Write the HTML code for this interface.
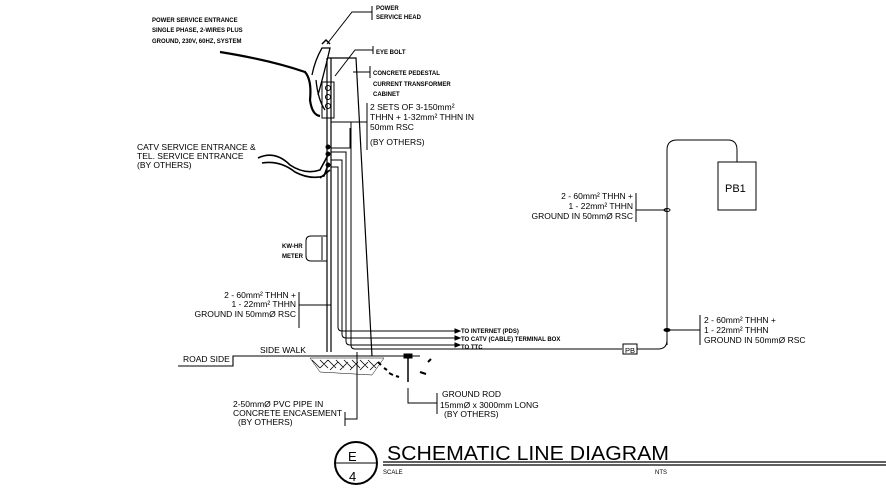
<!DOCTYPE html>
<html><head><meta charset="utf-8"><style>
html,body{margin:0;padding:0;background:#fff;width:886px;height:496px;overflow:hidden}
svg{display:block}
text{font-family:"Liberation Sans",sans-serif;fill:#000}
.s{font-size:8.5px}
.b{font-size:6px;font-weight:bold}
</style></head><body>
<svg width="886" height="496" viewBox="0 0 886 496" xmlns="http://www.w3.org/2000/svg">
<g stroke="#000" fill="none" stroke-width="1">
<path d="M327 58 L327 352 M331 58 L331 352 M327 58 L356 58 L372 356" stroke-width="1.2"/>
<rect x="322" y="82" width="12" height="36"/>
<circle cx="328" cy="88" r="2.5"/><circle cx="328" cy="97" r="2.5"/><circle cx="328" cy="106" r="2.5"/>
<path d="M220 52 Q270 60 305 72 Q312 80 310 100 Q312 115 320 116" stroke-width="2.2"/>
<path d="M312 75 Q315 60 322 48 L330 48 Q325 70 318 95 M316 80 Q318 100 325 110" stroke-width="1.3"/>
<path d="M322 44 L326 40 L330 44" stroke-width="1.5"/>
<path d="M331 122 L351 122 L351 345 Q351 349 355 349 L622 349"/>
<path d="M331 148 L350 148 L350 128"/>
<path d="M331 152 L346 152 L346 341 Q346 345 350 345 L455 345"/>
<path d="M331 160 L342 160 L342 334 Q342 338 346 338 L455 338"/>
<path d="M331 167 L338 167 L338 327 Q338 331 342 331 L455 331"/>
<path d="M258 158 Q275 150 290 165 Q305 175 320 170 L328 155 M262 163 Q280 160 295 172 Q310 180 324 176 L328 165 M320 178 L330 170" stroke-width="1.6"/>
<circle cx="328" cy="147" r="2" fill="#000"/><circle cx="328" cy="154" r="2" fill="#000"/><circle cx="328" cy="165" r="2" fill="#000"/>
<path d="M327 236 L311 236 Q306 236 306 241 L306 256 Q306 261 311 261 L327 261"/>
<path d="M322 237 L322 260"/>
<path d="M372 6 L372 20 M372 12 L352 12 L327 44"/>
<path d="M373 46 L373 54 M373 50 L355 50 L335 76"/>
<path d="M370 66 L370 78 M370 72 L353 72"/>
<path d="M367 103 L367 150 M367 122 L331 122"/>
<path d="M299 292 L299 328 M299 305 L331 305"/>
<path d="M345 412 L345 426 M345 419 L357 419 L357 352"/>
<path d="M437 393 L437 414 M437 403 L408 403 L408 388"/>
<path d="M636 193 L636 222 M636 210 L667 210"/>
<path d="M700 315 L700 345 M700 330 L667 330"/>
<path d="M455 329 L460 331 L455 333 Z M455 336 L460 338 L455 340 Z M455 343 L460 345 L455 347 Z" fill="#000"/>
<path d="M178 366 L233 366 L233 356 L420 356" stroke-width="1.1"/>
<path d="M310 358 L384 358 L372 375 L320 372 Z" stroke-width="0.5"/>
<path d="M312 360 l8 8 M320 360 l8 8 M328 360 l8 8 M336 360 l8 8 M344 360 l8 8 M352 360 l8 8 M360 360 l8 8 M368 360 l8 8 M320 368 l8 -8 M330 370 l8 -8 M340 370 l8 -8 M350 370 l8 -8 M360 370 l8 -8 M370 370 l8 -8" stroke-width="0.8"/>
<path d="M378 362 l3 3 M384 368 l3 2 M389 373 l4 2 M396 376 l3 1 M420 372 l6 2 M428 362 l3 -3" stroke-width="2"/>
<rect x="404" y="354" width="8" height="4" fill="#000"/>
<path d="M408 358 L408 382" stroke-width="1.5"/>
<path d="M667 345 L667 150 Q667 140 677 140 L728 140 Q737 140 737 150 L737 162"/>
<rect x="718" y="162" width="38" height="48"/>
<rect x="623" y="344" width="14" height="10"/>
<path d="M637 349 L658 349 Q667 349 667 340"/>
<ellipse cx="667" cy="210" rx="3" ry="1.5"/>
<ellipse cx="667" cy="330" rx="3" ry="1.5" fill="#000"/>
<circle cx="356" cy="463" r="21" stroke-width="2"/>
<path d="M335 463 L377 463"/>
<path d="M383 462 L886 462 M383 465 L886 465" stroke-width="1.2"/>
</g>
<text class="b" x="152" y="22">POWER SERVICE ENTRANCE</text>
<text class="b" x="152" y="32">SINGLE PHASE, 2-WIRES PLUS</text>
<text class="b" x="152" y="43">GROUND, 230V, 60HZ, SYSTEM</text>
<text class="b" x="376" y="10">POWER</text>
<text class="b" x="376" y="19">SERVICE HEAD</text>
<text class="b" x="376" y="54">EYE BOLT</text>
<text class="b" x="373" y="75">CONCRETE PEDESTAL</text>
<text class="b" x="373" y="86">CURRENT TRANSFORMER</text>
<text class="b" x="373" y="96">CABINET</text>
<text class="s" x="370" y="110">2 SETS OF 3-150mm²</text>
<text class="s" x="370" y="120">THHN + 1-32mm² THHN IN</text>
<text class="s" x="370" y="130">50mm RSC</text>
<text class="s" x="370" y="145">(BY OTHERS)</text>
<text class="s" x="137" y="150">CATV SERVICE ENTRANCE &amp;</text>
<text class="s" x="137" y="159">TEL. SERVICE ENTRANCE</text>
<text class="s" x="137" y="168">  (BY OTHERS)</text>
<text class="b" x="282" y="248">KW-HR</text>
<text class="b" x="282" y="258">METER</text>
<text class="s" x="296" y="298" text-anchor="end">2 - 60mm²  THHN +</text>
<text class="s" x="296" y="307" text-anchor="end">1 - 22mm²  THHN</text>
<text class="s" x="296" y="317" text-anchor="end">GROUND IN 50mmØ RSC</text>
<text class="b" x="461" y="333">TO INTERNET (PDS)</text>
<text class="b" x="461" y="341">TO CATV (CABLE) TERMINAL BOX</text>
<text class="b" x="461" y="349">TO TTC</text>
<text class="s" x="260" y="353">SIDE WALK</text>
<text class="s" x="183" y="362">ROAD SIDE</text>
<text class="s" x="233" y="407">2-50mmØ PVC PIPE IN</text>
<text class="s" x="233" y="416">CONCRETE ENCASEMENT</text>
<text class="s" x="238" y="425">(BY OTHERS)</text>
<text class="s" x="442" y="397">GROUND ROD</text>
<text class="s" x="440" y="408">15mmØ x 3000mm LONG</text>
<text class="s" x="444" y="417">(BY OTHERS)</text>
<text class="s" x="633" y="199" text-anchor="end">2 - 60mm²  THHN +</text>
<text class="s" x="633" y="209" text-anchor="end">1 - 22mm²  THHN</text>
<text class="s" x="633" y="219" text-anchor="end">GROUND IN 50mmØ RSC</text>
<text x="725" y="192" style="font-size:11px">PB1</text>
<text x="625" y="353" style="font-size:7.5px">PB</text>
<text class="s" x="704" y="323">2 - 60mm²  THHN +</text>
<text class="s" x="704" y="333">1 - 22mm²  THHN</text>
<text class="s" x="704" y="343">GROUND IN 50mmØ RSC</text>
<text x="348" y="461" style="font-size:13px">E</text>
<text x="349" y="481" style="font-size:13px">4</text>
<text x="387" y="460" style="font-size:20px" textLength="282" lengthAdjust="spacingAndGlyphs">SCHEMATIC LINE DIAGRAM</text>
<text x="383" y="474" style="font-size:6px">SCALE</text>
<text x="655" y="474" style="font-size:6px">NTS</text>
</svg>
</body></html>
